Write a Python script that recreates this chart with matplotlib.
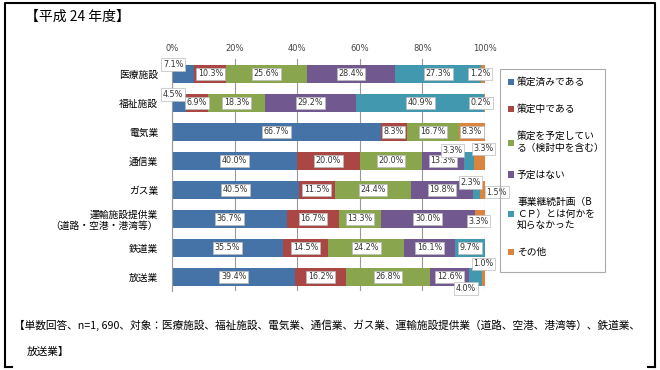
import numpy as np
import matplotlib
matplotlib.use('Agg')
import matplotlib.pyplot as plt
from matplotlib.lines import Line2D
from matplotlib.patches import Patch, Rectangle

plt.rcParams['font.family'] = ['Noto Sans CJK JP', 'DejaVu Sans']

# データ（％）
categories = ['医療施設', '福祉施設', '電気業', '通信業', 'ガス業',
              '運輸施設提供業\n（道路・空港・港湾等）', '鉄道業', '放送業']
series_names = ['策定済みである', '策定中である', '策定を予定してい\nる（検討中を含む）',
                '予定はない', '事業継続計画（B\nＣＰ）とは何かを\n知らなかった', 'その他']
done = [7.1, 4.5, 66.7, 40.0, 40.5, 36.7, 35.5, 39.4]
in_progress = [10.3, 6.9, 8.3, 20.0, 11.5, 16.7, 14.5, 16.2]
planned = [25.6, 18.3, 16.7, 20.0, 24.4, 13.3, 24.2, 26.8]
no_plan = [28.4, 29.2, 0.0, 13.3, 19.8, 30.0, 16.1, 12.6]
unknown = [27.3, 40.9, 0.0, 3.3, 2.3, 0.0, 9.7, 4.0]
other = [1.2, 0.2, 8.3, 3.3, 1.5, 3.3, 0.0, 1.0]
colors = ['#4572A7', '#AA4643', '#89A54E', '#71588F', '#4198AF', '#DB843D']

series = [done, in_progress, planned, no_plan, unknown, other]

# ラベルを棒の外に出すもの: (行, 系列): (dx, dy)  [%単位, 行単位]
outside = {
    (0, 0): (-3.2, -0.33), (1, 0): (-2.0, -0.29),
    (3, 4): (-5.4, -0.36), (3, 5): (1.3, -0.42),
    (4, 4): (-2.0, -0.26), (4, 5): (4.5, 0.08),
    (5, 5): (-0.5, 0.08),
    (7, 5): (0.0, -0.46), (7, 4): (-3.0, 0.40),
    (0, 5): (-0.8, 0.0), (1, 5): (-1.2, 0.0),
}

fig = plt.figure(figsize=(6.6, 3.7), dpi=100)
ax = fig.add_axes([0.2606, 0.2122, 0.4742, 0.627])

y = np.arange(len(categories))
left = np.zeros(len(categories))
for k, vals in enumerate(series):
    vals = np.array(vals)
    ax.barh(y, vals, left=left, height=0.62, color=colors[k], zorder=2)
    for i, v in enumerate(vals):
        if v <= 0:
            continue
        cx = left[i] + v / 2
        cy = y[i]
        if (i, k) in outside:
            dx, dy = outside[(i, k)]
            cx += dx
            cy += dy
        ax.text(cx, cy, f'{v:.1f}%', ha='center', va='center', fontsize=5.8,
                family='DejaVu Sans', color='#333333', zorder=4, clip_on=False,
                bbox=dict(boxstyle='square,pad=0.2', fc='white', ec='#bbbbbb', lw=0.5))
    left += vals

ax.set_xlim(0, 100)
ax.set_ylim(len(categories) - 0.5, -0.5)
ax.set_xticks(np.arange(0, 101, 20))
ax.set_xticklabels([f'{t}%' for t in range(0, 101, 20)], fontsize=6, color='#444444',
                   family='DejaVu Sans')
ax.xaxis.tick_top()
ax.tick_params(axis='x', length=0, pad=5)
ax.set_yticks(y)
ax.set_yticklabels(categories, fontsize=7, linespacing=1.1)
ax.tick_params(axis='y', length=0, pad=10)
ax.grid(axis='x', color='#999999', lw=0.8, zorder=0)
for s in ['top', 'right', 'bottom']:
    ax.spines[s].set_visible(False)
ax.spines['left'].set_color('#999999')

# 凡例（枠は別に描く）
handles = [Patch(facecolor=c, edgecolor='none') for c in colors]
leg = fig.legend(handles, series_names, loc='upper left',
                 bbox_to_anchor=(500 / 660, 1 - 69 / 370), fontsize=7,
                 handlelength=0.6, handleheight=0.6, handletextpad=0.3,
                 labelspacing=1.75, borderpad=0.35, frameon=False,
                 alignment='left')
fig.add_artist(Rectangle((500 / 660, 1 - 272 / 370), 105 / 660, 203 / 370,
                         fill=False, ec='#aaaaaa', lw=0.8, transform=fig.transFigure))

fig.text(25 / 660, 1 - 17 / 370, '【平成 24 年度】', fontsize=10, va='center', ha='left')
fig.text(14 / 660, 1 - 325 / 370,
         '【単数回答、n=1, 690、対象：医療施設、福祉施設、電気業、通信業、ガス業、運輸施設提供業（道路、空港、港湾等）、鉄道業、',
         fontsize=7.7, va='center', ha='left')
fig.text(27 / 660, 1 - 352 / 370, '放送業】', fontsize=7.7, va='center', ha='left')

# 外枠
def px(x, yy):
    return (x / 660, 1 - yy / 370)

frame = [
    [(5, 367), (5, 3), (655, 3), (655, 367)],
    [(5, 367), (12, 367)],
    [(648, 367), (655, 367)],
]
for seg in frame:
    xs = [px(a, b)[0] for a, b in seg]
    ys = [px(a, b)[1] for a, b in seg]
    fig.add_artist(Line2D(xs, ys, color='black', lw=1.5, transform=fig.transFigure))

fig.savefig('out.png', dpi=100)
